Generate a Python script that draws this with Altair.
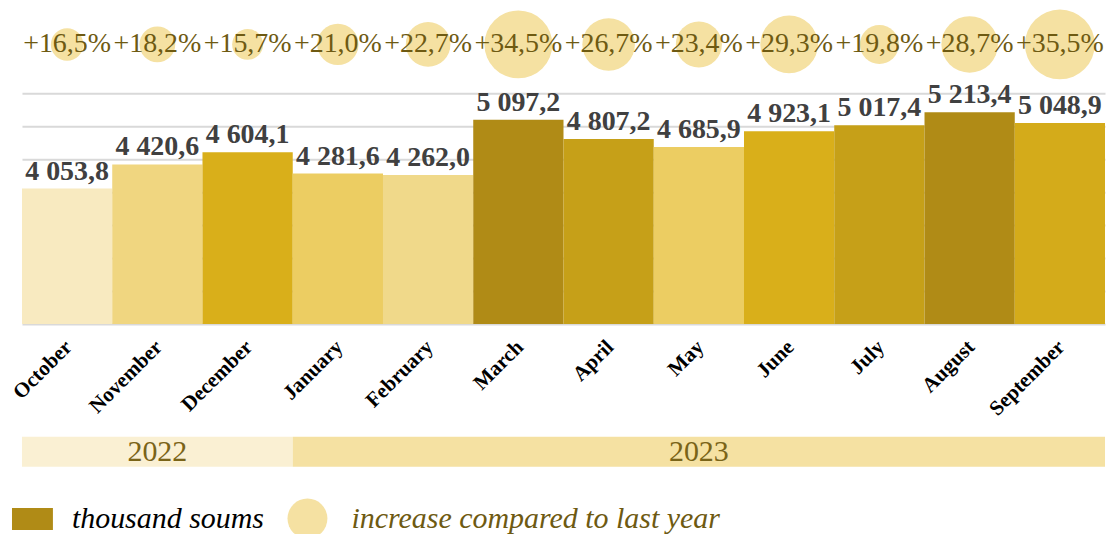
import altair as alt
import pandas as pd

months = ["October", "November", "December", "January", "February", "March",
          "April", "May", "June", "July", "August", "September"]
values = [4053.8, 4420.6, 4604.1, 4281.6, 4262.0, 5097.2,
          4807.2, 4685.9, 4923.1, 5017.4, 5213.4, 5048.9]
growth = [16.5, 18.2, 15.7, 21.0, 22.7, 34.5, 26.7, 23.4, 29.3, 19.8, 28.7, 35.5]
month_year = ["2022"] * 3 + ["2023"] * 9
years = ["2022", "2023"]
bar_colors = ["#F8EAC0", "#F0D680", "#D9AF1A", "#ECCD62", "#F0D98A", "#B08B16",
              "#C6A018", "#ECCD62", "#D9AF1A", "#C6A018", "#B08B16", "#D4AB1A"]
year_colors = ["#FAF0D3", "#F5E1A2"]
grid_values = [2500, 3000, 3500, 4000, 4500, 5000, 5500]
series_bar = "thousand soums"
series_bubble = "increase compared to last year"

SERIF = "Liberation Serif"
OLIVE = "#6E5A12"


def fmt_value(v):
    return f"{v:,.1f}".replace(",", " ").replace(".", ",")


def fmt_pct(g):
    return f"+{g:.1f}%".replace(".", ",")


df = pd.DataFrame({
    "month": months,
    "value": values,
    "growth": growth,
    "year": month_year,
})
df["value_label"] = [fmt_value(v) for v in values]
df["pct_label"] = [fmt_pct(g) for g in growth]
df["idx"] = range(len(months))
df["bar_series"] = series_bar
df["bubble_series"] = series_bubble

year_df = df.groupby("year", as_index=False).agg(start=("idx", "min"), end=("idx", "max"))
year_df["end"] = year_df["end"] + 1
year_df["mid"] = (year_df["start"] + year_df["end"]) / 2

W = 1085
band = alt.Scale(paddingInner=0, paddingOuter=0)

# ---- top panel: growth bubbles ----
xs = alt.X("month:N", sort=months, axis=None, scale=band)
bubbles = alt.Chart(df).mark_point(filled=True, opacity=1, color="#F5E1A2").encode(
    x=xs,
    size=alt.Size("growth:Q",
                  scale=alt.Scale(type="pow", exponent=2, domain=[0, 35.5], range=[0, 4900]),
                  legend=None),
    shape=alt.Shape("bubble_series:N", scale=alt.Scale(range=["circle"]),
                    legend=alt.Legend(title=None, orient="none", legendX=266, legendY=490,
                                      symbolSize=1600, symbolFillColor="#F5E1A2",
                                      symbolStrokeWidth=0, symbolOpacity=1,
                                      labelFont=SERIF, labelFontStyle="italic",
                                      labelFontSize=30, labelColor=OLIVE,
                                      labelOffset=24, labelLimit=600)),
)
pct_text = alt.Chart(df).mark_text(font=SERIF, fontSize=28, color=OLIVE).encode(
    x=xs, text="pct_label:N")
top = alt.layer(bubbles, pct_text).properties(width=W, height=70)

# ---- middle panel: bars ----
xb = alt.X("month:N", sort=months, scale=band,
           axis=alt.Axis(title=None, labelAngle=-45, labelFont=SERIF, labelFontWeight="bold",
                         labelFontSize=21, labelColor="black", ticks=False,
                         domainColor="#D9D9D9", domainWidth=2, labelPadding=12,
                         labelOffset=-6, minExtent=111, maxExtent=111))
yb = alt.Y("value:Q", scale=alt.Scale(domain=[2000, 5500], nice=False, zero=False),
           axis=alt.Axis(title=None, labels=False, ticks=False, domain=False, grid=True,
                         gridColor="#D9D9D9", gridWidth=2, values=grid_values))
bars = alt.Chart(df).mark_bar(clip=True).encode(
    x=xb, y=yb,
    color=alt.Color("month:N", sort=months, scale=alt.Scale(domain=months, range=bar_colors),
                    legend=None),
    opacity=alt.Opacity("bar_series:N", scale=alt.Scale(range=[1]),
                        legend=alt.Legend(title=None, orient="none", legendX=-10, legendY=490,
                                          symbolType="M-1,-0.54L1,-0.54L1,0.54L-1,0.54Z",
                                          symbolSize=1681, symbolFillColor="#B08B16",
                                          symbolStrokeWidth=0, symbolOpacity=1,
                                          labelFont=SERIF, labelFontStyle="italic",
                                          labelFontSize=30, labelColor="black",
                                          labelOffset=19, labelLimit=600)),
)
labels = alt.Chart(df).mark_text(font=SERIF, fontWeight="bold", fontSize=28, color="#404040",
                                 baseline="alphabetic", dy=-9).encode(
    x=xb, y=yb, text="value_label:N")
mid = alt.layer(bars, labels).properties(width=W, height=231)

# ---- bottom panel: year band ----
xq = alt.Scale(domain=[0, len(months)], nice=False, zero=True)
yr = alt.Chart(year_df).mark_rect().encode(
    x=alt.X("start:Q", scale=xq, axis=None), x2="end:Q",
    color=alt.Color("year:N", scale=alt.Scale(domain=years, range=year_colors), legend=None))
yrtext = alt.Chart(year_df).mark_text(font=SERIF, fontSize=30, color="#7A6418").encode(
    x=alt.X("mid:Q", scale=xq, axis=None), text="year:N")
bottom = alt.layer(yr, yrtext).properties(width=W, height=30)

chart = (
    alt.vconcat(top, mid, bottom, spacing=0)
    .resolve_scale(color="independent", size="independent")
    .properties(padding={"left": 0, "top": 0, "right": 5, "bottom": 5})
    .configure_view(stroke="transparent")
)

chart.save("out.html", embed_options={"renderer": "svg", "actions": False})
